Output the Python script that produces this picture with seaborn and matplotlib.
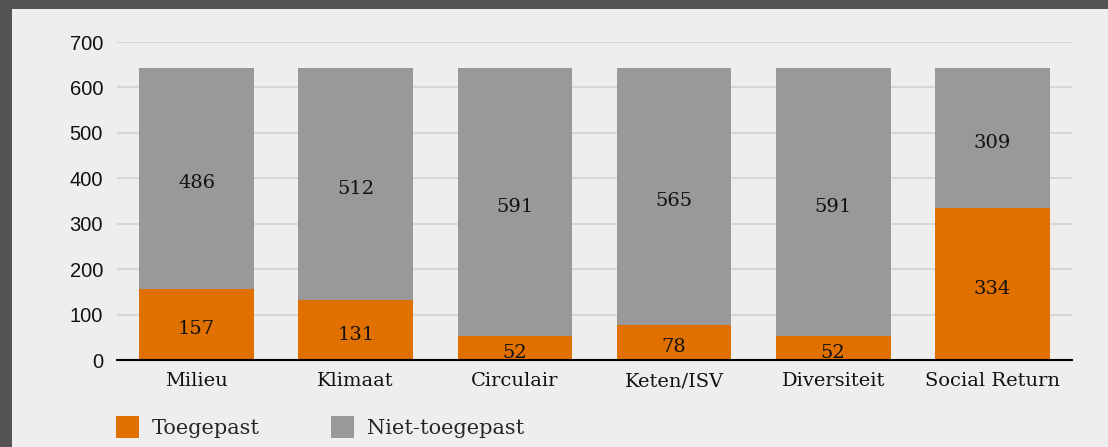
import matplotlib
matplotlib.use("Agg")
import matplotlib.pyplot as plt
import matplotlib.patches as mpatches
import seaborn as sns
import pandas as pd
import numpy as np

categories = ["Milieu", "Klimaat", "Circulair", "Keten/ISV", "Diversiteit", "Social Return"]
toegepast = [157, 131, 52, 78, 52, 334]
niet_toegepast = [486, 512, 591, 565, 591, 309]
series_names = ["Toegepast", "Niet-toegepast"]
y_ticks = [0, 100, 200, 300, 400, 500, 600, 700]

ORANGE = "#e07000"
GRAY = "#999999"
BG = "#eeeeee"
BORDER = "#545454"
GRID = "#d4d4d4"
SERIF = "DejaVu Serif"

sns.set_theme(style="white")
plt.rcParams["font.family"] = ["Liberation Sans", "DejaVu Sans"]

df = pd.DataFrame({
    "cat": categories,
    "toe": toegepast,
    "niet": niet_toegepast,
})
df["total"] = df["toe"] + df["niet"]

fig = plt.figure(figsize=(11.08, 4.47), dpi=100, facecolor=BORDER)
fig.patches.append(mpatches.Rectangle((12 / 1108, 0), 1, (447 - 9) / 447,
                                      transform=fig.transFigure, facecolor=BG,
                                      edgecolor="none", zorder=-10))
ax = fig.add_axes([117 / 1108, 87 / 447, (1072 - 117) / 1108, (405 - 87) / 447])
ax.set_zorder(1)
ax.set_facecolor(BG)

sns.barplot(data=df, x="cat", y="total", color=GRAY, width=0.72,
            saturation=1, ax=ax, zorder=2, linewidth=0, edgecolor="none")
sns.barplot(data=df, x="cat", y="toe", color=ORANGE, width=0.72,
            saturation=1, ax=ax, zorder=3, linewidth=0, edgecolor="none")

ax.set_ylim(0, 700)
ax.set_xlim(-0.5, len(categories) - 0.5)
ax.set_yticks(y_ticks)
ax.yaxis.grid(True, color=GRID, linewidth=1.3, zorder=0)
ax.set_axisbelow(True)
for s in ["left", "right", "top"]:
    ax.spines[s].set_visible(False)
ax.spines["bottom"].set_color("black")
ax.spines["bottom"].set_linewidth(1.5)
ax.spines["bottom"].set_zorder(5)
ax.tick_params(axis="y", length=0, pad=10, labelsize=14.5, labelcolor="#111111")
ax.tick_params(axis="x", length=0, pad=9, labelsize=14, labelcolor="#111111")
for lbl in ax.get_xticklabels():
    lbl.set_fontfamily(SERIF)
ax.set_xlabel("")
ax.set_ylabel("")

for i, (t, n) in enumerate(zip(toegepast, niet_toegepast)):
    for val, ypos in ((t, t / 2), (n, t + n / 2)):
        ax.annotate(str(val), xy=(i, ypos), xytext=(0, -3.5),
                    textcoords="offset points", ha="center", va="center",
                    fontsize=14, family=SERIF, color="#111111", zorder=6)

handles = [mpatches.Patch(facecolor=ORANGE, edgecolor="none", label=series_names[0]),
           mpatches.Patch(facecolor=GRAY, edgecolor="none", label=series_names[1])]
fig.legend(handles=handles, loc="center left",
           bbox_to_anchor=(116 / 1108, (447 - 427) / 447), ncol=2, frameon=False,
           prop={"family": SERIF, "size": 15}, handlelength=1.1, handleheight=1.3,
           handletextpad=0.6, columnspacing=3.45, borderaxespad=0, borderpad=0)

fig.savefig("out.png", dpi=100, facecolor=BORDER)
